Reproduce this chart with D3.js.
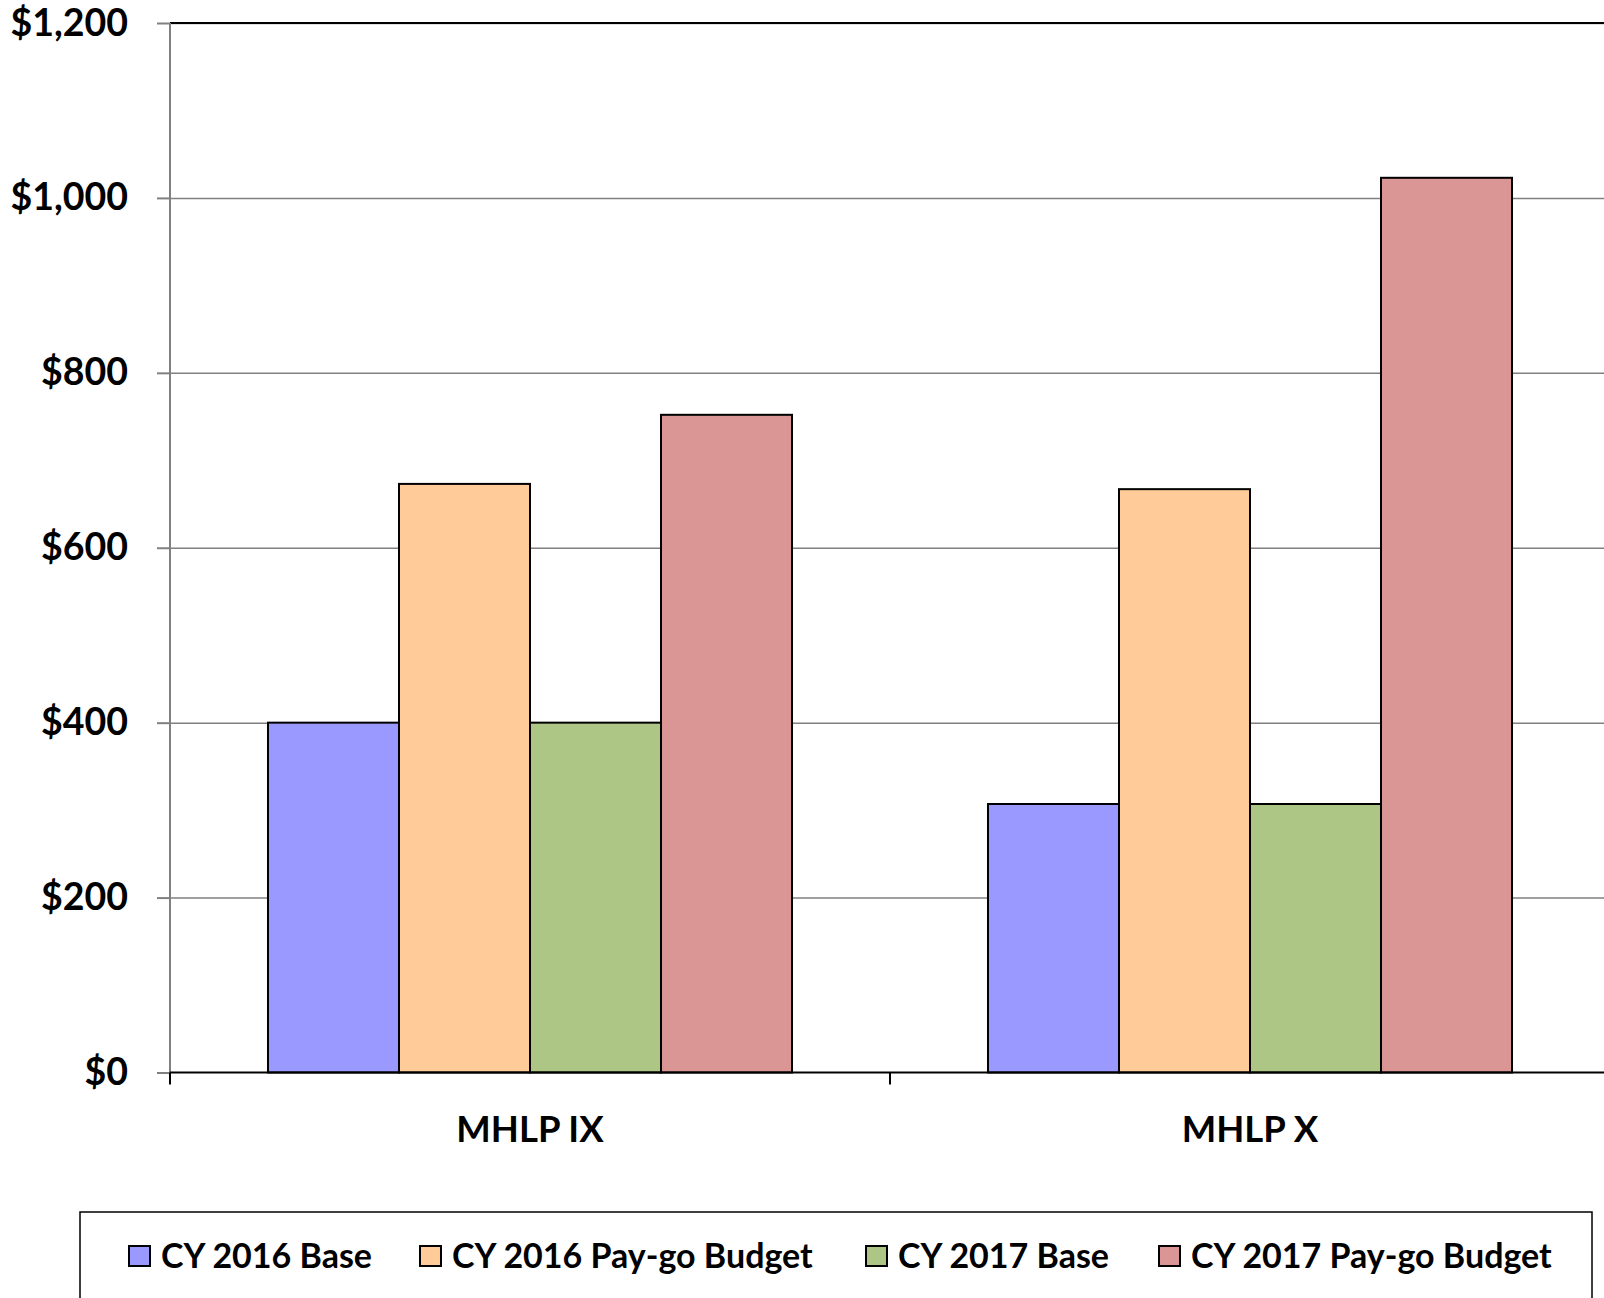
<!DOCTYPE html>
<html>
<head>
<meta charset="utf-8">
<script src="https://cdn.jsdelivr.net/npm/d3@7"></script>
<style>
  body { margin: 0; background: #fff; }
  svg { display: block; font-family: Lato, "Open Sans", sans-serif; font-weight: bold; }
</style>
</head>
<body>
<svg id="chart" width="1604" height="1298"></svg>
<script>
// chart data
var categories = ["MHLP IX", "MHLP X"];
var seriesNames = ["CY 2016 Base", "CY 2016 Pay-go Budget", "CY 2017 Base", "CY 2017 Pay-go Budget"];
var seriesColors = ["#9999ff", "#ffcc99", "#adc685", "#d99694"];
var cy2016Base = [400, 307];
var cy2016Paygo = [673, 667];
var cy2017Base = [400, 307];
var cy2017Paygo = [752, 1023];
var yTicks = [0, 200, 400, 600, 800, 1000, 1200];

var seriesValues = [cy2016Base, cy2016Paygo, cy2017Base, cy2017Paygo];

(function() {
    var svg = d3.select("#chart");
    var plotLeft = 170, plotRight = 1610, plotTop = 23, plotBottom = 1072.5;

    var y = d3.scaleLinear().domain([0, 1200]).range([plotBottom, plotTop]);
    var x0 = d3.scaleBand().domain(categories).range([plotLeft, plotRight])
        .paddingInner(0.2722).paddingOuter(0.1361);
    var x1 = d3.scaleBand().domain(seriesNames).range([0, x0.bandwidth()]);

    // gridlines
    svg.append("g")
        .attr("transform", "translate(" + plotLeft + ",0)")
        .call(d3.axisLeft(y).tickValues(yTicks.slice(1)).tickSize(-(plotRight - plotLeft)).tickFormat(""))
        .call(g => g.select(".domain").remove())
        .call(g => g.selectAll("line").attr("stroke", "#808080").attr("stroke-width", 1.5));

    // top border
    svg.append("line").attr("x1", plotLeft).attr("x2", plotRight)
        .attr("y1", y(1200)).attr("y2", y(1200))
        .attr("stroke", "#000").attr("stroke-width", 2);

    // bars
    var groups = svg.append("g").selectAll("g")
        .data(categories)
        .join("g")
        .attr("transform", d => "translate(" + x0(d) + ",0)");

    groups.selectAll("rect")
        .data((c, i) => seriesNames.map((s, k) => ({s: s, v: seriesValues[k][i], k: k})))
        .join("rect")
        .attr("x", d => x1(d.s))
        .attr("y", d => y(d.v))
        .attr("width", x1.bandwidth())
        .attr("height", d => y(0) - y(d.v))
        .attr("fill", d => seriesColors[d.k])
        .attr("stroke", "#000")
        .attr("stroke-width", 2);

    // y axis
    var yAxis = svg.append("g")
        .attr("transform", "translate(" + plotLeft + ",0)")
        .call(d3.axisLeft(y).tickValues(yTicks).tickSize(13).tickPadding(29)
            .tickFormat(d => "$" + d3.format(",")(d)));
    yAxis.select(".domain").remove();
    yAxis.selectAll("line").attr("stroke", "#808080").attr("stroke-width", 2);
    yAxis.selectAll("text").attr("font-size", 37.5).attr("font-family", "Lato, sans-serif")
        .attr("font-weight", "bold").attr("fill", "#000");
    svg.append("line").attr("x1", plotLeft).attr("x2", plotLeft)
        .attr("y1", plotTop).attr("y2", plotBottom)
        .attr("stroke", "#808080").attr("stroke-width", 2);

    // x axis
    svg.append("line").attr("x1", plotLeft).attr("x2", plotRight)
        .attr("y1", plotBottom).attr("y2", plotBottom)
        .attr("stroke", "#000").attr("stroke-width", 2);
    var step = x0.step();
    svg.append("g").selectAll("line")
        .data(d3.range(categories.length + 1))
        .join("line")
        .attr("x1", i => plotLeft + i * step).attr("x2", i => plotLeft + i * step)
        .attr("y1", plotBottom).attr("y2", plotBottom + 12)
        .attr("stroke", "#000").attr("stroke-width", 2);
    svg.append("g").selectAll("text")
        .data(categories)
        .join("text")
        .attr("x", d => x0(d) + x0.bandwidth() / 2)
        .attr("y", 1142)
        .attr("text-anchor", "middle")
        .attr("font-size", 36.5)
        .text(d => d);

    // legend
    svg.append("rect").attr("x", 80).attr("y", 1212).attr("width", 1512).attr("height", 120)
        .attr("fill", "none").attr("stroke", "#000").attr("stroke-width", 1.5);
    var legendX = [129, 420, 866, 1159];
    var items = svg.append("g").selectAll("g")
        .data(seriesNames)
        .join("g")
        .attr("transform", (d, i) => "translate(" + legendX[i] + ",1246)");
    items.append("rect").attr("width", 21).attr("height", 20)
        .attr("fill", (d, i) => seriesColors[i]).attr("stroke", "#000").attr("stroke-width", 2);
    items.append("text").attr("x", 32).attr("y", 10).attr("dy", "0.35em")
        .attr("font-size", 34).text(d => d);
}());
</script>
</body>
</html>
